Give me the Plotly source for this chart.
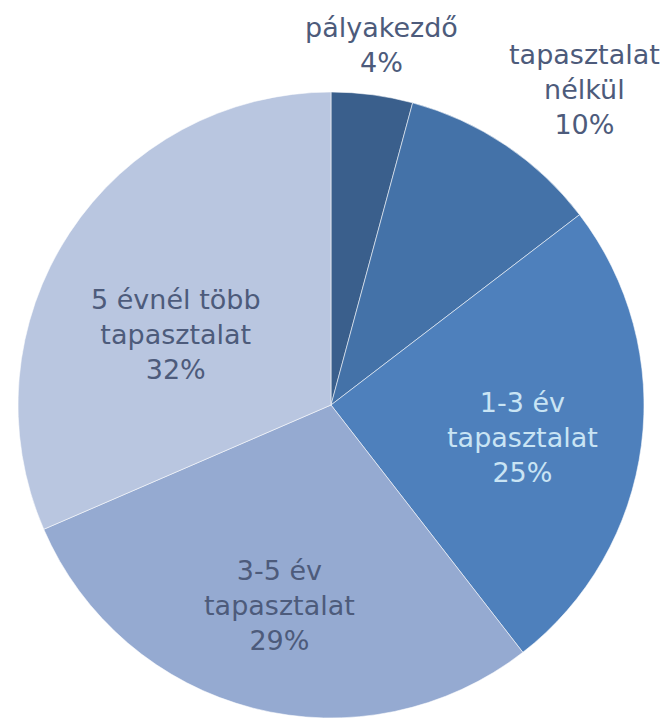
import plotly.graph_objects as go

categories = ["pályakezdő", "tapasztalat nélkül", "1-3 év tapasztalat", "3-5 év tapasztalat", "5 évnél több tapasztalat"]
values = [4.2, 10.4, 24.9, 29.0, 31.5]
pct_labels = ["4%", "10%", "25%", "29%", "32%"]
label_lines = [["pályakezdő"], ["tapasztalat", "nélkül"], ["1-3 év", "tapasztalat"], ["3-5 év", "tapasztalat"], ["5 évnél több", "tapasztalat"]]

colors = ["#3a5f8c", "#4472a8", "#4e80bc", "#95aad1", "#b9c6e0"]
text_colors = ["#4d5b7b", "#4d5b7b", "#c9e4f4", "#4d5b7b", "#4d5b7b"]
label_px = [(381, 45), (584, 89), (522, 437), (279, 605), (176, 334)]

W, H = 664, 718
ml, mt, mb = 18, 92, 0
ph = H - mt - mb
pw = ph
mr = W - ml - pw

fig = go.Figure(go.Pie(
    labels=categories, values=values, sort=False, direction="clockwise", rotation=0,
    marker=dict(colors=colors, line=dict(color="rgba(255,255,255,0.55)", width=1)),
    textinfo="none", hoverinfo="label+percent", showlegend=False,
))

annotations = []
for lines, pct, col, (px, py) in zip(label_lines, pct_labels, text_colors, label_px):
    annotations.append(dict(
        x=(px - ml) / pw, y=1 - (py - mt) / ph, xref="paper", yref="paper",
        text="<br>".join(lines + [pct]), showarrow=False, xanchor="center", yanchor="middle",
        font=dict(family="DejaVu Sans", size=27, color=col), align="center",
    ))

fig.update_layout(
    width=W, height=H, margin=dict(l=ml, r=mr, t=mt, b=mb),
    paper_bgcolor="white", plot_bgcolor="white", annotations=annotations,
)
fig.write_html("out.html", config={"displayModeBar": False},
               post_script="document.body.style.margin='0';document.body.style.overflow='hidden';")
